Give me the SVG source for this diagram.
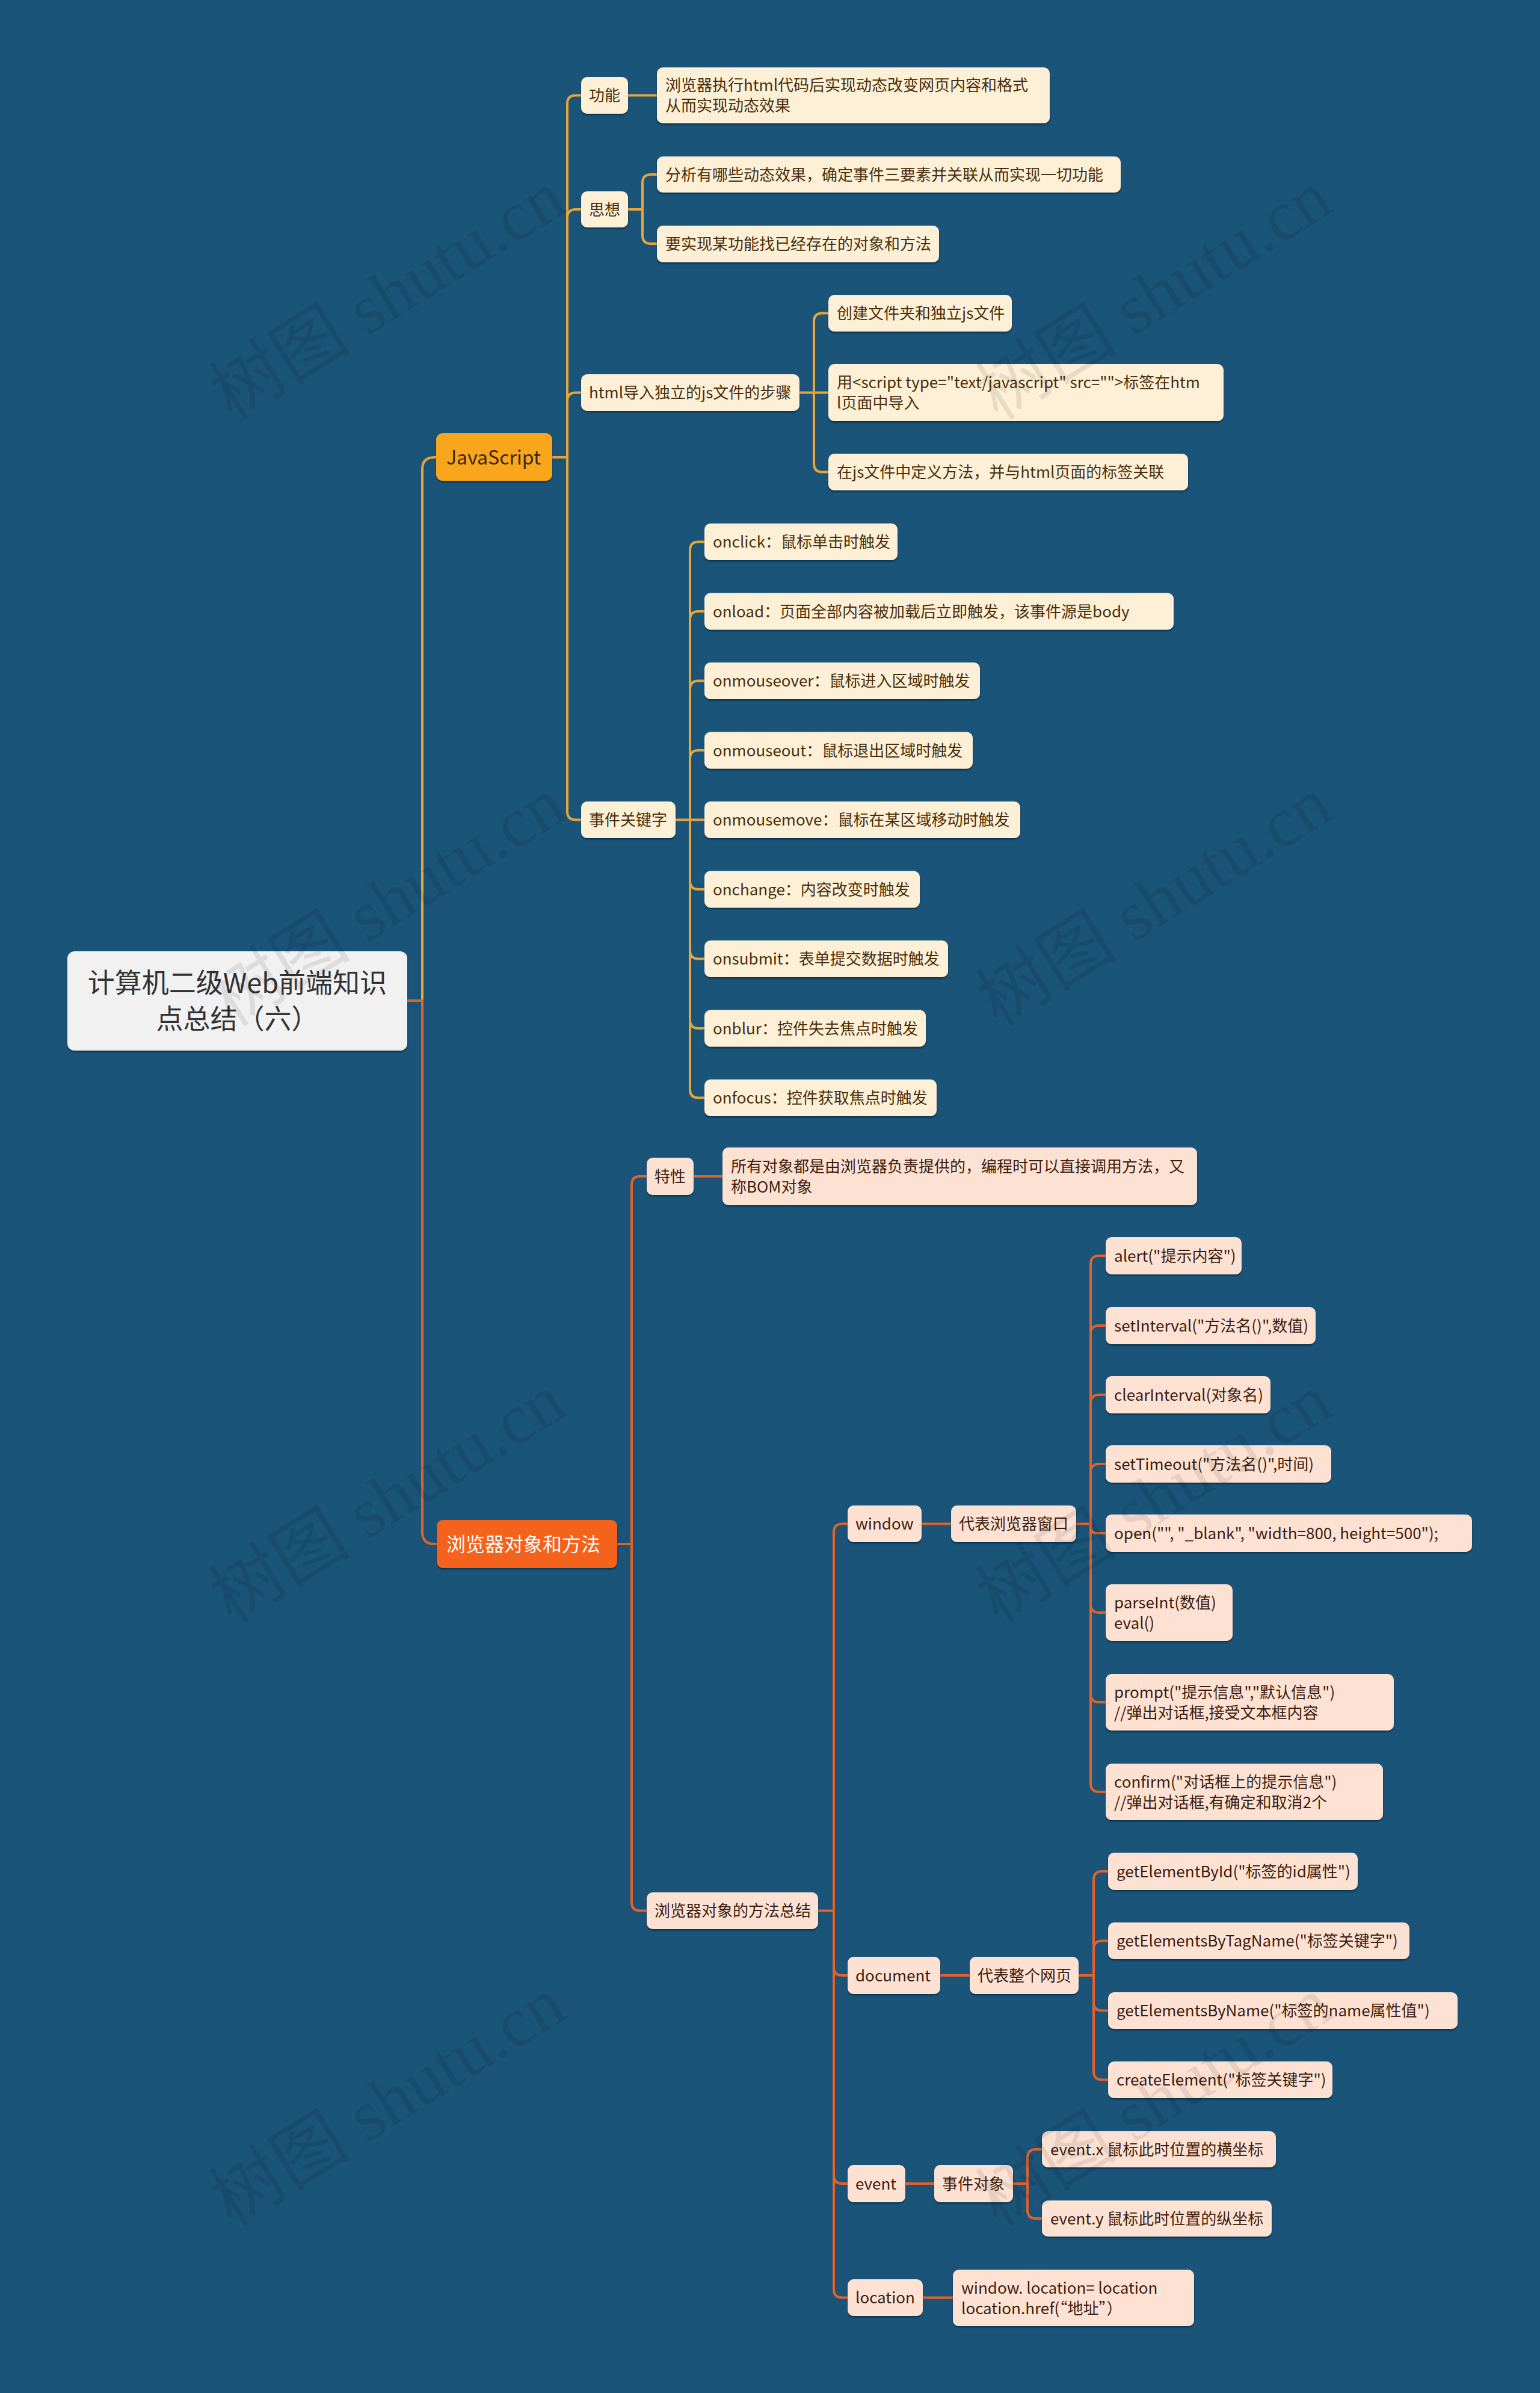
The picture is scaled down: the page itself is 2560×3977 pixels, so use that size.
<svg xmlns="http://www.w3.org/2000/svg" width="2560" height="3977" viewBox="0 0 2560 3977">
<defs>
<filter id="sh" x="-5%" y="-10%" width="110%" height="130%"><feDropShadow dx="0" dy="2.5" stdDeviation="1.2" flood-color="#06283f" flood-opacity="0.7"/></filter>
<style>
text{font-family:"Microsoft YaHei","Noto Sans CJK SC","Noto Sans",sans-serif;}
.root rect{fill:#f1f1f1;}
.root text{font-size:45px;fill:#333333;text-anchor:middle;}
.l1js rect{fill:#f9a61e;}
.l1js text{font-size:32px;fill:#3b2606;}
.l1br rect{fill:#f4621c;}
.l1br text{font-size:32px;fill:#ffffff;}
.js rect{fill:#fdf0d6;}
.js text{font-size:26px;fill:#4a2e0c;}
.br rect{fill:#fde2d3;}
.br text{font-size:26px;fill:#3d1c0e;}
rect{filter:url(#sh);}
.cj{fill:none;stroke:#e8a53a;stroke-width:4;}
.cb{fill:none;stroke:#e4612a;stroke-width:4;}
.wm{font-family:"Liberation Serif","Noto Sans CJK SC",serif;font-size:118px;fill:#000000;fill-opacity:0.085;}
</style>
</defs>
<rect x="0" y="0" width="2560" height="3977" fill="#1a5479" style="filter:none"/>

<g id="connectors">
<path class="cj" d="M 677 1663 H 702 V 780 Q 702 760 722 760 H 725"/>
<path class="cb" d="M 677 1663 H 702 V 2546 Q 702 2566 722 2566 H 726"/>
<path class="cj" d="M 918 760 H 943 V 172.5 Q 943 158.5 957 158.5 H 966"/>
<path class="cj" d="M 943 760 V 362 Q 943 348 957 348 H 966"/>
<path class="cj" d="M 943 760 V 666.5 Q 943 652.5 957 652.5 H 966"/>
<path class="cj" d="M 943 760 V 1348.5 Q 943 1362.5 957 1362.5 H 966"/>
<path class="cj" d="M 1044 158.5 H 1092"/>
<path class="cj" d="M 1044 348 H 1068 V 304 Q 1068 290 1082 290 H 1092"/>
<path class="cj" d="M 1068 348 V 391 Q 1068 405 1082 405 H 1092"/>
<path class="cj" d="M 1329 652.5 H 1377"/>
<path class="cj" d="M 1353 652.5 V 534.5 Q 1353 520.5 1367 520.5 H 1377"/>
<path class="cj" d="M 1353 652.5 V 770.5 Q 1353 784.5 1367 784.5 H 1377"/>
<path class="cj" d="M 1123 1362.5 H 1171"/>
<path class="cj" d="M 1147 1362.5 V 914.5 Q 1147 900.5 1161 900.5 H 1171"/>
<path class="cj" d="M 1147 1362.5 V 1030 Q 1147 1016 1161 1016 H 1171"/>
<path class="cj" d="M 1147 1362.5 V 1145.5 Q 1147 1131.5 1161 1131.5 H 1171"/>
<path class="cj" d="M 1147 1362.5 V 1261 Q 1147 1247 1161 1247 H 1171"/>
<path class="cj" d="M 1147 1362.5 V 1464 Q 1147 1478 1161 1478 H 1171"/>
<path class="cj" d="M 1147 1362.5 V 1579.5 Q 1147 1593.5 1161 1593.5 H 1171"/>
<path class="cj" d="M 1147 1362.5 V 1695 Q 1147 1709 1161 1709 H 1171"/>
<path class="cj" d="M 1147 1362.5 V 1810.5 Q 1147 1824.5 1161 1824.5 H 1171"/>
<path class="cb" d="M 1026 2566 H 1050 V 1969 Q 1050 1955 1064 1955 H 1075"/>
<path class="cb" d="M 1050 2566 V 3161.5 Q 1050 3175.5 1064 3175.5 H 1075"/>
<path class="cb" d="M 1153 1955 H 1201"/>
<path class="cb" d="M 1360 3175.5 H 1386 V 2546.5 Q 1386 2532.5 1400 2532.5 H 1409"/>
<path class="cb" d="M 1386 3175.5 V 3269 Q 1386 3283 1400 3283 H 1409"/>
<path class="cb" d="M 1386 3175.5 V 3615 Q 1386 3629 1400 3629 H 1409"/>
<path class="cb" d="M 1386 3175.5 V 3804.5 Q 1386 3818.5 1400 3818.5 H 1409"/>
<path class="cb" d="M 1532 2532.5 H 1581"/>
<path class="cb" d="M 1789 2532.5 H 1813 V 2101 Q 1813 2087 1827 2087 H 1838"/>
<path class="cb" d="M 1813 2532.5 V 2217 Q 1813 2203 1827 2203 H 1838"/>
<path class="cb" d="M 1813 2532.5 V 2332 Q 1813 2318 1827 2318 H 1838"/>
<path class="cb" d="M 1813 2532.5 V 2447 Q 1813 2433 1827 2433 H 1838"/>
<path class="cb" d="M 1813 2532.5 V 2537 Q 1813 2548 1824 2548 H 1838"/>
<path class="cb" d="M 1813 2532.5 V 2666 Q 1813 2680 1827 2680 H 1838"/>
<path class="cb" d="M 1813 2532.5 V 2815 Q 1813 2829 1827 2829 H 1838"/>
<path class="cb" d="M 1813 2532.5 V 2964 Q 1813 2978 1827 2978 H 1838"/>
<path class="cb" d="M 1563 3283 H 1612"/>
<path class="cb" d="M 1793 3283 H 1818 V 3124 Q 1818 3110 1832 3110 H 1842"/>
<path class="cb" d="M 1818 3283 V 3239.5 Q 1818 3225.5 1832 3225.5 H 1842"/>
<path class="cb" d="M 1818 3283 V 3327.5 Q 1818 3341.5 1832 3341.5 H 1842"/>
<path class="cb" d="M 1818 3283 V 3442.5 Q 1818 3456.5 1832 3456.5 H 1842"/>
<path class="cb" d="M 1505 3629 H 1553"/>
<path class="cb" d="M 1684 3629 H 1708 V 3586 Q 1708 3572 1722 3572 H 1732"/>
<path class="cb" d="M 1708 3629 V 3673 Q 1708 3687 1722 3687 H 1732"/>
<path class="cb" d="M 1534 3818.5 H 1584"/>
</g>

<g id="root" class="root"><rect x="112" y="1581" width="565" height="165" rx="12"/><text x="394.5" y="1650">计算机二级Web前端知识</text><text x="394.5" y="1710">点总结（六）</text></g>

<g id="n-js" class="l1js"><rect x="725" y="720" width="193" height="79" rx="11"/><text x="742" y="771.5">JavaScript</text></g>
<g id="n-gn" class="js"><rect x="966" y="128" width="78" height="61" rx="10"/><text x="979" y="168">功能</text></g>
<g id="n-gn1" class="js"><rect x="1092" y="112" width="653" height="93" rx="10"/><text x="1106" y="151">浏览器执行html代码后实现动态改变网页内容和格式</text><text x="1106" y="185">从而实现动态效果</text></g>
<g id="n-sx" class="js"><rect x="966" y="318" width="78" height="60" rx="10"/><text x="979" y="357.5">思想</text></g>
<g id="n-sx1" class="js"><rect x="1092" y="260" width="771" height="60" rx="10"/><text x="1106" y="299.5">分析有哪些动态效果，确定事件三要素并关联从而实现一切功能</text></g>
<g id="n-sx2" class="js"><rect x="1092" y="375" width="469" height="61" rx="10"/><text x="1106" y="414.5">要实现某功能找已经存在的对象和方法</text></g>
<g id="n-html" class="js"><rect x="966" y="622" width="363" height="61" rx="10"/><text x="979" y="662">html导入独立的js文件的步骤</text></g>
<g id="n-html1" class="js"><rect x="1377" y="490" width="305" height="61" rx="10"/><text x="1391" y="530">创建文件夹和独立js文件</text></g>
<g id="n-html2" class="js"><rect x="1377" y="605" width="657" height="95" rx="10"/><text x="1391" y="645">用&lt;script type="text/javascript" src=""&gt;标签在htm</text><text x="1391" y="679">l页面中导入</text></g>
<g id="n-html3" class="js"><rect x="1377" y="754" width="598" height="61" rx="10"/><text x="1391" y="794">在js文件中定义方法，并与html页面的标签关联</text></g>
<g id="n-sj" class="js"><rect x="966" y="1332" width="157" height="61" rx="10"/><text x="979" y="1372">事件关键字</text></g>
<g id="n-e1" class="js"><rect x="1171" y="870" width="321" height="61" rx="10"/><text x="1185" y="910">onclick：鼠标单击时触发</text></g>
<g id="n-e2" class="js"><rect x="1171" y="985.5" width="780" height="61" rx="10"/><text x="1185" y="1025.5">onload：页面全部内容被加载后立即触发，该事件源是body</text></g>
<g id="n-e3" class="js"><rect x="1171" y="1101" width="458" height="61" rx="10"/><text x="1185" y="1141">onmouseover：鼠标进入区域时触发</text></g>
<g id="n-e4" class="js"><rect x="1171" y="1216.5" width="446" height="61" rx="10"/><text x="1185" y="1256.5">onmouseout：鼠标退出区域时触发</text></g>
<g id="n-e5" class="js"><rect x="1171" y="1332" width="525" height="61" rx="10"/><text x="1185" y="1372">onmousemove：鼠标在某区域移动时触发</text></g>
<g id="n-e6" class="js"><rect x="1171" y="1447.5" width="358" height="61" rx="10"/><text x="1185" y="1487.5">onchange：内容改变时触发</text></g>
<g id="n-e7" class="js"><rect x="1171" y="1563" width="405" height="61" rx="10"/><text x="1185" y="1603">onsubmit：表单提交数据时触发</text></g>
<g id="n-e8" class="js"><rect x="1171" y="1678.5" width="368" height="61" rx="10"/><text x="1185" y="1718.5">onblur：控件失去焦点时触发</text></g>
<g id="n-e9" class="js"><rect x="1171" y="1794" width="386" height="61" rx="10"/><text x="1185" y="1834">onfocus：控件获取焦点时触发</text></g>

<g id="n-br" class="l1br"><rect x="726" y="2526" width="300" height="80" rx="11"/><text x="742" y="2577.5">浏览器对象和方法</text></g>
<g id="n-tx" class="br"><rect x="1075" y="1924" width="78" height="62" rx="10"/><text x="1088" y="1964.5">特性</text></g>
<g id="n-tx1" class="br"><rect x="1201" y="1907" width="789" height="96" rx="10"/><text x="1215" y="1947.5">所有对象都是由浏览器负责提供的，编程时可以直接调用方法，又</text><text x="1215" y="1981.5">称BOM对象</text></g>
<g id="n-ff" class="br"><rect x="1075" y="3145" width="285" height="61" rx="10"/><text x="1088" y="3185">浏览器对象的方法总结</text></g>
<g id="n-win" class="br"><rect x="1409" y="2502" width="123" height="61" rx="10"/><text x="1422" y="2542">window</text></g>
<g id="n-win1" class="br"><rect x="1581" y="2502" width="208" height="61" rx="10"/><text x="1594" y="2542">代表浏览器窗口</text></g>
<g id="n-w1" class="br"><rect x="1838" y="2056" width="226" height="62" rx="10"/><text x="1852" y="2096.5">alert("提示内容")</text></g>
<g id="n-w2" class="br"><rect x="1838" y="2172" width="349" height="62" rx="10"/><text x="1852" y="2212.5">setInterval("方法名()",数值)</text></g>
<g id="n-w3" class="br"><rect x="1838" y="2287" width="274" height="62" rx="10"/><text x="1852" y="2327.5">clearInterval(对象名)</text></g>
<g id="n-w4" class="br"><rect x="1838" y="2402" width="375" height="62" rx="10"/><text x="1852" y="2442.5">setTimeout("方法名()",时间)</text></g>
<g id="n-w5" class="br"><rect x="1838" y="2517" width="609" height="62" rx="10"/><text x="1852" y="2557.5">open("", "_blank", "width=800, height=500");</text></g>
<g id="n-w6" class="br"><rect x="1838" y="2633" width="211" height="94" rx="10"/><text x="1852" y="2672.5">parseInt(数值)</text><text x="1852" y="2706.5">eval()</text></g>
<g id="n-w7" class="br"><rect x="1838" y="2782" width="479" height="94" rx="10"/><text x="1852" y="2821.5">prompt("提示信息","默认信息")</text><text x="1852" y="2855.5">//弹出对话框,接受文本框内容</text></g>
<g id="n-w8" class="br"><rect x="1838" y="2931" width="461" height="94" rx="10"/><text x="1852" y="2970.5">confirm("对话框上的提示信息")</text><text x="1852" y="3004.5">//弹出对话框,有确定和取消2个</text></g>
<g id="n-doc" class="br"><rect x="1409" y="3252" width="154" height="62" rx="10"/><text x="1422" y="3292.5">document</text></g>
<g id="n-doc1" class="br"><rect x="1612" y="3252" width="181" height="62" rx="10"/><text x="1625" y="3292.5">代表整个网页</text></g>
<g id="n-d1" class="br"><rect x="1842" y="3079" width="415" height="62" rx="10"/><text x="1856" y="3119.5">getElementById("标签的id属性")</text></g>
<g id="n-d2" class="br"><rect x="1842" y="3195" width="501" height="61" rx="10"/><text x="1856" y="3235">getElementsByTagName("标签关键字")</text></g>
<g id="n-d3" class="br"><rect x="1842" y="3311" width="581" height="61" rx="10"/><text x="1856" y="3351">getElementsByName("标签的name属性值")</text></g>
<g id="n-d4" class="br"><rect x="1842" y="3426" width="373" height="61" rx="10"/><text x="1856" y="3466">createElement("标签关键字")</text></g>
<g id="n-ev" class="br"><rect x="1409" y="3598" width="96" height="62" rx="10"/><text x="1422" y="3638.5">event</text></g>
<g id="n-ev1" class="br"><rect x="1553" y="3598" width="131" height="62" rx="10"/><text x="1566" y="3638.5">事件对象</text></g>
<g id="n-ex" class="br"><rect x="1732" y="3542" width="389" height="60" rx="10"/><text x="1746" y="3581.5">event.x 鼠标此时位置的横坐标</text></g>
<g id="n-ey" class="br"><rect x="1732" y="3657" width="382" height="60" rx="10"/><text x="1746" y="3696.5">event.y 鼠标此时位置的纵坐标</text></g>
<g id="n-loc" class="br"><rect x="1409" y="3788" width="125" height="61" rx="10"/><text x="1422" y="3828">location</text></g>
<g id="n-loc1" class="br"><rect x="1584" y="3772" width="401" height="94" rx="10"/><text x="1598" y="3811.5">window. location= location</text><text x="1598" y="3845.5">location.href(“地址”）</text></g>

<g id="watermark">
<text class="wm" transform="translate(385,700) rotate(-32)">树图 shutu.cn</text>
<text class="wm" transform="translate(1659,700) rotate(-32)">树图 shutu.cn</text>
<text class="wm" transform="translate(385,1708) rotate(-32)">树图 shutu.cn</text>
<text class="wm" transform="translate(1659,1708) rotate(-32)">树图 shutu.cn</text>
<text class="wm" transform="translate(385,2700) rotate(-32)">树图 shutu.cn</text>
<text class="wm" transform="translate(1659,2700) rotate(-32)">树图 shutu.cn</text>
<text class="wm" transform="translate(385,3702) rotate(-32)">树图 shutu.cn</text>
<text class="wm" transform="translate(1659,3702) rotate(-32)">树图 shutu.cn</text>
</g>
</svg>
